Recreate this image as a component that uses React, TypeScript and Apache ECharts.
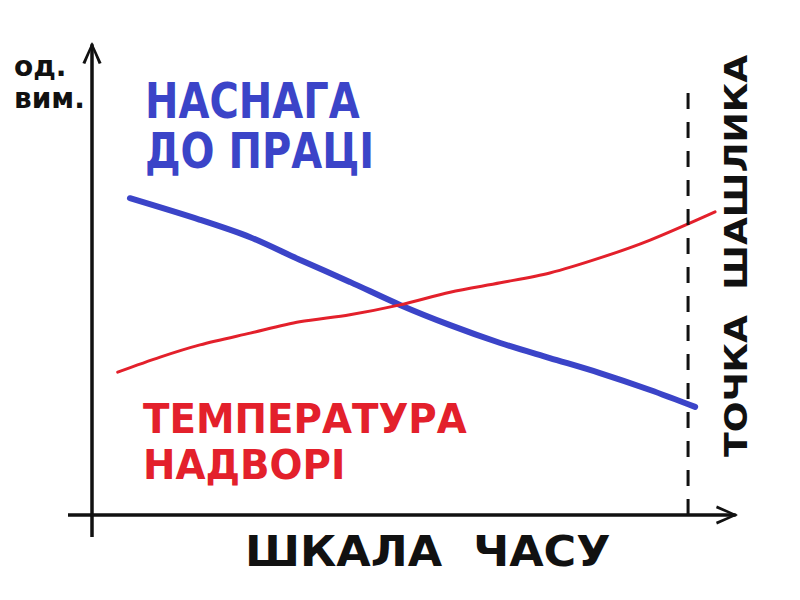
import React, { useEffect, useRef } from "react";
import * as echarts from "echarts";

const motivationX = [5.9, 16.8, 24.6, 32.3, 40.1, 47.9, 55.7, 63.5, 71.2, 79.0, 86.8, 93.8];
const motivationY = [67.4, 62.8, 59.1, 54.3, 49.6, 44.7, 40.4, 36.6, 33.4, 30.2, 26.6, 23.0];
const temperatureX = [4.0, 10.6, 16.8, 24.6, 32.3, 40.1, 47.9, 55.7, 63.5, 71.2, 79.0, 86.8, 96.9];
const temperatureY = [30.4, 33.6, 36.2, 38.7, 41.1, 42.6, 44.7, 47.4, 49.4, 51.5, 54.7, 58.5, 64.5];
const kebabX = [92.7, 92.7];
const kebabY = [0, 90.4];

const BLUE = "#3b44c8";
const RED = "#e3202b";
const INK = "#111111";
const FONT = "'DejaVu Sans', sans-serif";
const CHEVRON = "path://M0,22 L10,0 L20,22 L17,23 L10,6 L3,23 Z";

export default function App() {
  const ref = useRef<HTMLDivElement>(null);
  useEffect(() => {
    if (!ref.current) return;
    const chart = echarts.init(ref.current, null, { renderer: "svg" });
    const zip = (xs: number[], ys: number[]) => xs.map((x, i) => [x, ys[i]]);
    chart.setOption({
      animation: false,
      backgroundColor: "#ffffff",
      grid: { left: 92, top: 45, width: 643, height: 470 },
      xAxis: {
        type: "value",
        min: 0,
        max: 100,
        axisLine: {
          show: true,
          onZero: false,
          lineStyle: { color: INK, width: 3.5 },
          symbol: ["none", CHEVRON],
          symbolSize: [20, 22],
          symbolOffset: [0, -8],
        },
        axisTick: { show: false },
        axisLabel: { show: false },
        splitLine: { show: false },
      },
      yAxis: {
        type: "value",
        min: 0,
        max: 100,
        axisLine: {
          show: true,
          onZero: false,
          lineStyle: { color: INK, width: 3.5 },
          symbol: ["none", CHEVRON],
          symbolSize: [20, 22],
          symbolOffset: [0, -8],
        },
        axisTick: { show: false },
        axisLabel: { show: false },
        splitLine: { show: false },
      },
      series: [
        {
          name: "НАСНАГА ДО ПРАЦІ",
          type: "line",
          data: zip(motivationX, motivationY),
          smooth: 0.3,
          symbol: "none",
          lineStyle: { color: BLUE, width: 6, cap: "round" },
        },
        {
          name: "ТЕМПЕРАТУРА НАДВОРІ",
          type: "line",
          data: zip(temperatureX, temperatureY),
          smooth: 0.3,
          symbol: "none",
          lineStyle: { color: RED, width: 3, cap: "round" },
        },
        {
          name: "ТОЧКА ШАШЛИКА",
          type: "line",
          data: zip(kebabX, kebabY),
          symbol: "none",
          lineStyle: { color: INK, width: 3, type: [16, 13] },
        },
      ],
      graphic: [
        { type: "line", shape: { x1: 68, y1: 515, x2: 92, y2: 515 }, style: { stroke: INK, lineWidth: 3.5 } },
        { type: "line", shape: { x1: 92, y1: 515, x2: 92, y2: 537 }, style: { stroke: INK, lineWidth: 3.5 } },
        {
          type: "text",
          x: 14,
          y: 50,
          style: { text: "од.\nвим.", fill: INK, font: `bold 28px ${FONT}`, lineHeight: 32 },
        },
        {
          type: "text",
          x: 145,
          y: 76,
          scaleX: 0.8,
          style: { text: "НАСНАГА\nДО ПРАЦІ", fill: BLUE, font: `bold 50px ${FONT}`, lineHeight: 50 },
        },
        {
          type: "text",
          x: 143,
          y: 396,
          scaleX: 0.97,
          style: { text: "ТЕМПЕРАТУРА\nНАДВОРІ", fill: RED, font: `bold 40px ${FONT}`, lineHeight: 46 },
        },
        {
          type: "text",
          x: 245,
          y: 530,
          scaleX: 1.06,
          style: { text: "ШКАЛА  ЧАСУ", fill: INK, font: `bold 42px ${FONT}` },
        },
        {
          type: "text",
          x: 720,
          y: 457,
          scaleX: 1.13,
          rotation: Math.PI / 2,
          style: { text: "ТОЧКА  ШАШЛИКА", fill: INK, font: `bold 32px ${FONT}` },
        },
      ],
    });
    return () => chart.dispose();
  }, []);
  return <div ref={ref} style={{ position: "fixed", left: 0, top: 0, width: 800, height: 600, background: "#fff" }} />;
}
